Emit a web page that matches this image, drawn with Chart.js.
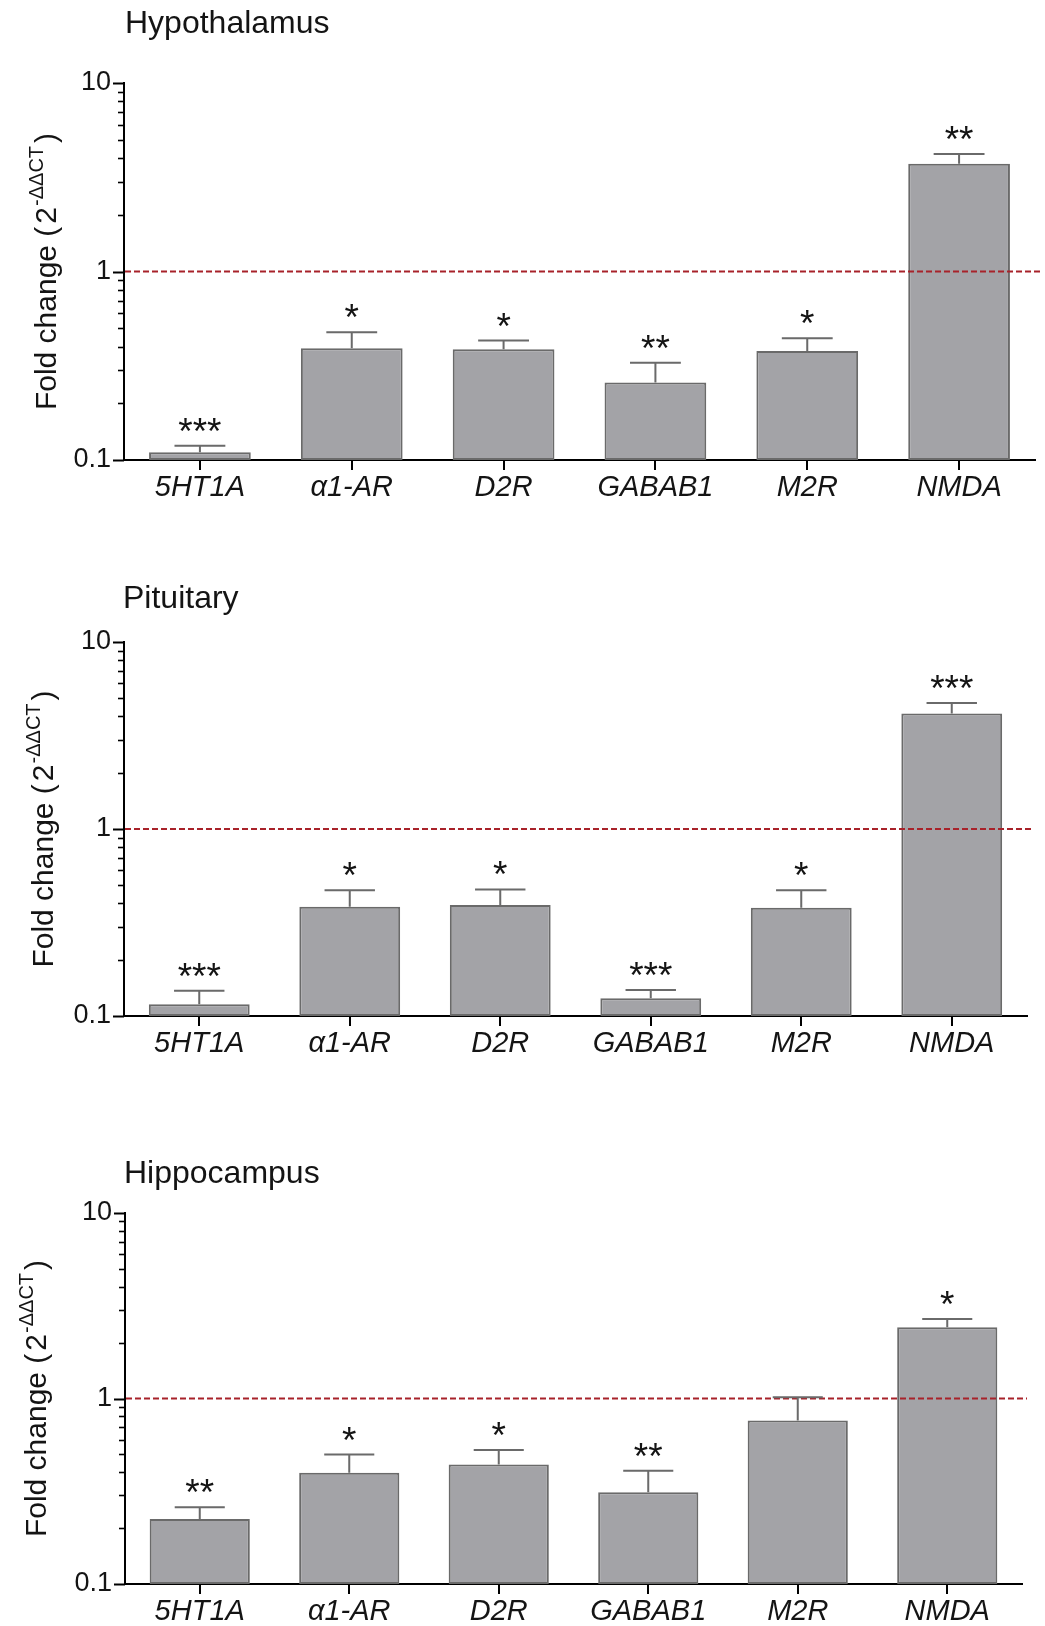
<!DOCTYPE html>
<html><head><meta charset="utf-8">
<script src="https://cdn.jsdelivr.net/npm/chart.js@4.4.0/dist/chart.umd.min.js"></script>
<style>
html,body{margin:0;padding:0;background:#fff;}
body{width:1045px;height:1626px;position:relative;overflow:hidden;}
.panel{position:absolute;left:0;width:1045px;}
</style></head><body>
<div class="panel" style="top:0px;height:530px"><canvas id="c1"></canvas></div>
<div class="panel" style="top:530px;height:560px"><canvas id="c2"></canvas></div>
<div class="panel" style="top:1090px;height:536px"><canvas id="c3"></canvas></div>
<script>
// ---------- data ----------
const genes = ['5HT1A', 'α1-AR', 'D2R', 'GABAB1', 'M2R', 'NMDA'];
const tickValues = [0.1, 0.2, 0.3, 0.4, 0.5, 0.6, 0.7, 0.8, 0.9, 1, 2, 3, 4, 5, 6, 7, 8, 9, 10];
const majorTicks = [0.1, 1, 10];
const referenceLevel = 1;

const hypothalamusMean   = [0.110, 0.392, 0.387, 0.258, 0.379, 3.73];
const hypothalamusErrTop = [0.119, 0.476, 0.430, 0.328, 0.442, 4.20];
const hypothalamusStars  = ['***', '*', '*', '**', '*', '**'];

const pituitaryMean   = [0.1155, 0.384, 0.392, 0.1243, 0.379, 4.14];
const pituitaryErrTop = [0.1365, 0.471, 0.475, 0.1377, 0.471, 4.72];
const pituitaryStars  = ['***', '*', '*', '***', '*', '***'];

const hippocampusMean   = [0.224, 0.398, 0.441, 0.312, 0.761, 2.42];
const hippocampusErrTop = [0.259, 0.499, 0.527, 0.408, 1.016, 2.68];
const hippocampusStars  = ['**', '*', '*', '**', '', '*'];

// ---------- style ----------
const FONT = '"Liberation Sans", Arial, Helvetica, sans-serif';
const BAR_FILL = '#a3a3a7';
const BAR_EDGE = '#6a6a6a';
const TEXT = '#141414';
const REF_COLOR = '#a8222a';

function makeFigurePlugin(cfg) {
  return {
    id: 'figure_' + cfg.id,
    afterDraw(chart) {
      const ctx = chart.ctx;
      const ca = chart.chartArea;
      const y = chart.scales.y;
      ctx.save();
      // y ticks (major longer)
      ctx.strokeStyle = '#000';
      tickValues.forEach(v => {
        const py = Math.round(y.getPixelForValue(v)) + 0.5;
        const major = majorTicks.includes(v);
        ctx.lineWidth = major ? 2 : 1.6;
        ctx.beginPath();
        ctx.moveTo(ca.left - (major ? 11 : 6), py);
        ctx.lineTo(ca.left, py);
        ctx.stroke();
      });
      // reference dashed line
      const ry = y.getPixelForValue(referenceLevel);
      ctx.strokeStyle = REF_COLOR;
      ctx.lineWidth = 2;
      ctx.setLineDash([6, 3]);
      ctx.beginPath();
      ctx.moveTo(ca.left + 1, ry);
      ctx.lineTo(ca.right + 5, ry);
      ctx.stroke();
      ctx.setLineDash([]);
      // error bars + stars
      const meta = chart.getDatasetMeta(0);
      meta.data.forEach((el, i) => {
        const yc = y.getPixelForValue(cfg.errTop[i]);
        const half = el.width / 4;
        ctx.strokeStyle = BAR_EDGE;
        ctx.lineWidth = 2;
        ctx.beginPath();
        ctx.moveTo(el.x, el.y);
        ctx.lineTo(el.x, yc);
        ctx.moveTo(el.x - half, yc);
        ctx.lineTo(el.x + half, yc);
        ctx.stroke();
        if (cfg.stars[i]) {
          ctx.fillStyle = TEXT;
          ctx.font = '37px ' + FONT;
          ctx.textAlign = 'center';
          ctx.textBaseline = 'alphabetic';
          ctx.fillText(cfg.stars[i], el.x, yc - 2);
        }
      });
      // panel title
      ctx.fillStyle = TEXT;
      ctx.font = '32px ' + FONT;
      ctx.textAlign = 'left';
      ctx.textBaseline = 'alphabetic';
      ctx.fillText(cfg.title, cfg.titleX, cfg.titleY);
      // y-axis title with superscript
      const cy = (ca.top + ca.bottom) / 2;
      ctx.translate(cfg.yTitleX, cy);
      ctx.rotate(-Math.PI / 2);
      const parts = [
        {t: 'Fold change (', f: '30px ' + FONT, dy: 0, gap: 3},
        {t: '2', f: '30px ' + FONT, dy: 0, gap: 1},
        {t: '-ΔΔCT', f: '20px ' + FONT, dy: -13, gap: 3},
        {t: ')', f: '30px ' + FONT, dy: 0, gap: 0}
      ];
      let total = 0;
      parts.forEach(p => { ctx.font = p.f; p.w = ctx.measureText(p.t).width; total += p.w + p.gap; });
      let x = -total / 2;
      parts.forEach(p => { ctx.font = p.f; ctx.fillText(p.t, x, p.dy); x += p.w + p.gap; });
      ctx.restore();
    }
  };
}

function makePanel(canvasId, cfg) {
  return new Chart(document.getElementById(canvasId), {
    type: 'bar',
    data: {
      labels: genes,
      datasets: [{
        data: cfg.mean,
        backgroundColor: BAR_FILL,
        borderColor: BAR_EDGE,
        borderWidth: 2,
        borderSkipped: false,
        barPercentage: 0.67,
        categoryPercentage: 1.0
      }]
    },
    options: {
      responsive: true,
      maintainAspectRatio: false,
      animation: false,
      devicePixelRatio: 1,
      layout: {padding: {top: cfg.padTop, right: cfg.padRight, left: 0, bottom: 0}},
      plugins: {legend: {display: false}, tooltip: {enabled: false}, title: {display: false}},
      scales: {
        x: {
          type: 'category',
          offset: true,
          grid: {display: true, drawOnChartArea: false, drawTicks: true, tickLength: 10, offset: false, color: '#000', lineWidth: 2},
          border: {display: true, color: '#000', width: 2},
          ticks: {font: {family: FONT, size: 29, style: 'italic'}, color: TEXT, padding: 1, maxRotation: 0, autoSkip: false},
          afterFit(s) { s.height = cfg.xAxisHeight; }
        },
        y: {
          type: 'logarithmic',
          min: 0.1,
          max: 10,
          grid: {display: true, drawOnChartArea: false, drawTicks: false},
          border: {display: true, color: '#000', width: 2},
          afterBuildTicks(s) { s.ticks = tickValues.map(v => ({value: v})); },
          ticks: {
            autoSkip: false,
            font: {family: FONT, size: 27},
            color: TEXT,
            padding: 13,
            callback(v) { return majorTicks.includes(v) ? String(v) : ''; }
          },
          afterFit(s) { s.width = cfg.yAxisWidth; }
        }
      }
    },
    plugins: [makeFigurePlugin(cfg)]
  });
}

makePanel('c1', {
  id: 1, title: 'Hypothalamus', titleX: 125, titleY: 33, yTitleX: 56,
  mean: hypothalamusMean, errTop: hypothalamusErrTop, stars: hypothalamusStars,
  padTop: 83, padRight: 10, xAxisHeight: 70, yAxisWidth: 124
});
makePanel('c2', {
  id: 2, title: 'Pituitary', titleX: 123, titleY: 78, yTitleX: 53,
  mean: pituitaryMean, errTop: pituitaryErrTop, stars: pituitaryStars,
  padTop: 112, padRight: 18, xAxisHeight: 74, yAxisWidth: 124
});
makePanel('c3', {
  id: 3, title: 'Hippocampus', titleX: 124, titleY: 93, yTitleX: 46,
  mean: hippocampusMean, errTop: hippocampusErrTop, stars: hippocampusStars,
  padTop: 123, padRight: 23, xAxisHeight: 42, yAxisWidth: 125
});
</script>
</body></html>
